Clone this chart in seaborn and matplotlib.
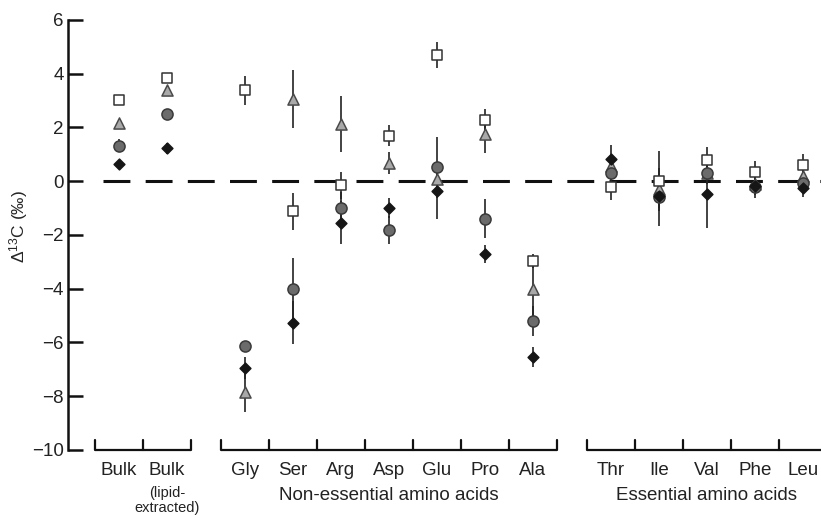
"""Delta 13C of bulk tissue and individual amino acids (four series)."""

import matplotlib
matplotlib.use("Agg")
import matplotlib.pyplot as plt
import numpy as np
import pandas as pd
import seaborn as sns

# ---- data ----
categories = ["Bulk", "Bulk", "Gly", "Ser", "Arg", "Asp", "Glu", "Pro", "Ala",
              "Thr", "Ile", "Val", "Phe", "Leu"]
group_names = ["", "Non-essential amino acids", "Essential amino acids"]
group_sizes = [2, 7, 5]

square_vals = [3.03, 3.85, 3.38, -1.12, -0.15, 1.70, 4.70, 2.28, -2.97,
               -0.22, 0.00, 0.78, 0.34, 0.60]
square_err = [0.0, 0.0, 0.55, 0.70, 0.50, 0.38, 0.47, 0.40, 0.25,
              0.46, 1.12, 0.48, 0.40, 0.42]

triangle_vals = [2.18, 3.38, -7.85, 3.06, 2.14, 0.68, 0.10, 1.74, -4.00,
                 0.55, -0.30, 0.30, -0.10, 0.19]
triangle_err = [0.0, 0.0, 0.75, 1.07, 1.05, 0.40, 0.30, 0.70, 1.10,
                0.30, 0.50, 0.30, 0.20, 0.25]

circle_vals = [1.32, 2.50, -6.13, -4.00, -1.01, -1.82, 0.52, -1.39, -5.20,
               0.29, -0.58, 0.31, -0.22, -0.06]
circle_err = [0.25, 0.10, 0.20, 1.15, 0.60, 0.53, 1.13, 0.74, 0.55,
              0.40, 1.09, 0.40, 0.30, 0.30]

diamond_vals = [0.65, 1.22, -6.94, -5.26, -1.55, -0.99, -0.37, -2.72, -6.53,
                0.84, -0.55, -0.46, -0.19, -0.27]
diamond_err = [0.10, 0.22, 0.40, 0.80, 0.80, 0.37, 1.03, 0.33, 0.37,
               0.52, 0.45, 1.27, 0.45, 0.30]

# x positions: unit spacing within a group, extra gap between groups
gap = 0.625
xpos = []
start = 0.0
for n in group_sizes:
    xpos.extend(start + np.arange(n))
    start = xpos[-1] + 1 + gap
xpos = np.array(xpos)

df = pd.DataFrame({"x": xpos, "category": categories})

# drawing order: triangle, circle, diamond, square on top
series = [
    ("triangle", triangle_vals, triangle_err, "^", 64, "#a9a9a9", "#4a4a4a"),
    ("circle", circle_vals, circle_err, "o", 64, "#6b6b6b", "#3a3a3a"),
    ("diamond", diamond_vals, diamond_err, "D", 30, "#161616", "#161616"),
    ("square", square_vals, square_err, "s", 62, "white", "#333333"),
]

sns.set_theme(style="ticks")
plt.rcParams["font.family"] = ["Liberation Sans", "DejaVu Sans"]
plt.rcParams["mathtext.default"] = "regular"

fig = plt.figure(figsize=(8.21, 5.18), dpi=100)
ax = fig.add_axes([0.0828, 0.1313, 0.9172, 0.8301])

for name, vals, errs, marker, size, face, edge in series:
    df[name] = vals
    df[name + "_err"] = errs
    ax.vlines(df["x"], df[name] - df[name + "_err"], df[name] + df[name + "_err"],
              color="#222222", lw=1.2, zorder=1)
for i, (name, vals, errs, marker, size, face, edge) in enumerate(series):
    sns.scatterplot(data=df, x="x", y=name, marker=marker, s=size, color=face,
                    edgecolor=edge, linewidth=1.1, zorder=3 + i, ax=ax, legend=False)

# dashed zero line
ax.hlines(0, -0.33, 15, color="#111111", lw=2.2, linestyles=[(0, (8.8, 5.0))], zorder=0)

ax.set_xlim(-1.0625, 14.625)
ax.set_ylim(-10, 6)
ax.set_yticks(np.arange(-10, 7, 2))
ax.set_yticklabels([str(t).replace("-", "\u2212") for t in range(-10, 7, 2)])
ax.set_xticks([])
ax.set_xlabel("")
ax.set_ylabel("\u0394$^{13}$C (\u2030)", fontsize=12.5)
ax.yaxis.set_label_coords(-0.05, 0.52)
for side in ["top", "right", "bottom"]:
    ax.spines[side].set_visible(False)
ax.spines["left"].set_linewidth(1.8)
ax.spines["left"].set_color("#111111")
ax.tick_params(axis="y", direction="in", length=11, width=1.8, color="#111111",
               labelsize=13.5, pad=3, labelcolor="#222222")

# group brackets along the bottom with category ticks
tick_h = 0.37
idx = 0
for gname, n in zip(group_names, group_sizes):
    gx = xpos[idx:idx + n]
    left, right = gx[0] - 0.5, gx[-1] + 0.5
    ax.plot([left, right], [-10, -10], color="#111111", lw=1.6, clip_on=False,
            solid_capstyle="butt")
    for b in np.arange(left, right + 0.01, 1.0):
        ax.plot([b, b], [-10, -10 + tick_h], color="#111111", lw=1.6, clip_on=False)
    for x, lab in zip(gx, categories[idx:idx + n]):
        ax.text(x, -10.78, lab, ha="center", va="center", fontsize=13.5,
                color="#222222", clip_on=False)
    if gname:
        ax.text(gx.mean(), -11.71, gname, ha="center", va="center", fontsize=13.5,
                color="#222222", clip_on=False)
    idx += n

ax.text(xpos[1], -11.6, "(lipid-", ha="center", va="center", fontsize=10.5,
        color="#222222", clip_on=False)
ax.text(xpos[1], -12.15, "extracted)", ha="center", va="center", fontsize=10.5,
        color="#222222", clip_on=False)

fig.savefig("out.png", dpi=100)
